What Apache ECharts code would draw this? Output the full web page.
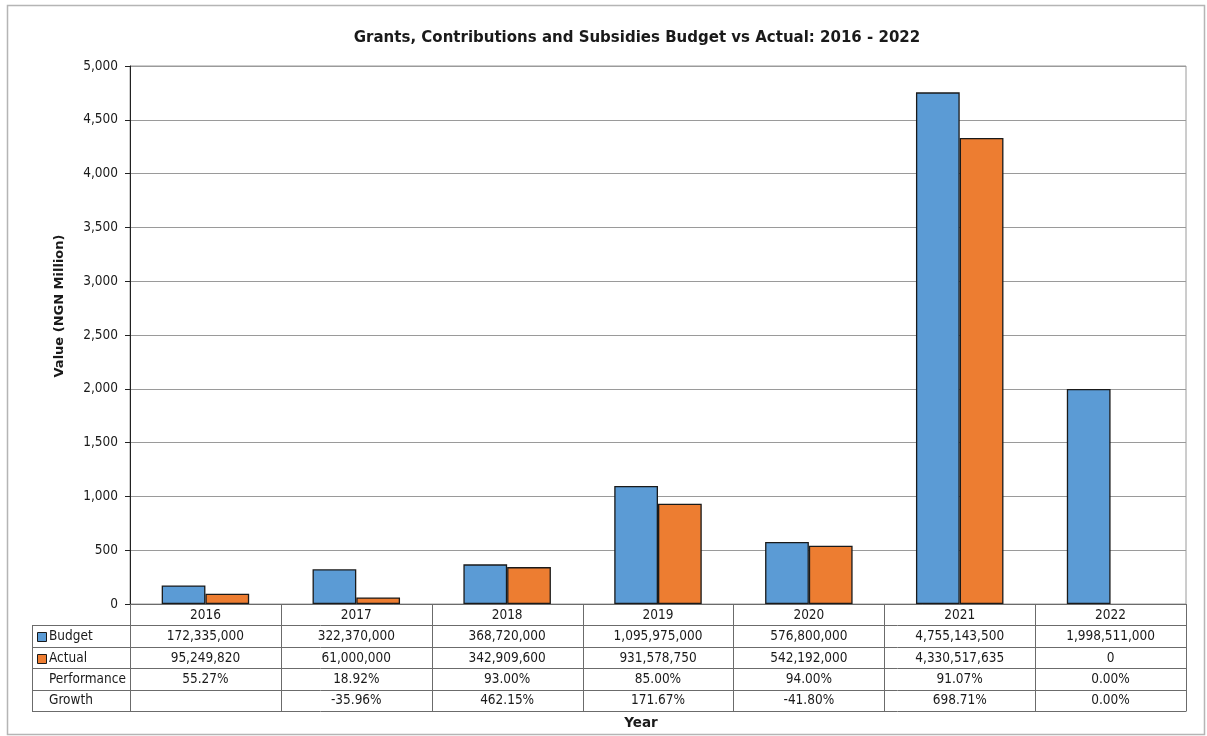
<!DOCTYPE html>
<html>
<head>
<meta charset="utf-8">
<script src="https://cdn.jsdelivr.net/npm/echarts@6/dist/echarts.min.js"></script>
<style>
  html, body { margin: 0; padding: 0; background: #fff; }
  #chart { width: 1207px; height: 736px; }
</style>
</head>
<body>
<div id="chart"></div>
<script>
// Years on the category axis / table header
const years = ['2016', '2017', '2018', '2019', '2020', '2021', '2022'];
// Raw amounts in NGN
const budgetRaw = [172335000, 322370000, 368720000, 1095975000, 576800000, 4755143500, 1998511000];
const actualRaw = [95249820, 61000000, 342909600, 931578750, 542192000, 4330517635, 0];
// Derived table rows
const performance = ['55.27%', '18.92%', '93.00%', '85.00%', '94.00%', '91.07%', '0.00%'];
const growth = ['', '-35.96%', '462.15%', '171.67%', '-41.80%', '698.71%', '0.00%'];
// Value axis ticks (NGN Million)
const yMin = 0, yMax = 5000, yStep = 500;

const FONT = '"DejaVu Sans Condensed", "DejaVu Sans"';
const FS = 13.5;
const BLUE = '#5b9bd5';
const ORANGE = '#ed7d31';
const TEXT = '#1a1a1a';
const TABLE_LINE = '#6b6b6b';

const fmt = v => v.toLocaleString('en-US');
// Bars in NGN Million; a zero value draws no outline
const toBar = v => ({ value: v / 1e6, itemStyle: v === 0 ? { borderWidth: 0 } : undefined });

const chart = echarts.init(document.getElementById('chart'), null, { renderer: 'canvas' });

const option = {
  backgroundColor: '#fff',
  animation: false,
  title: {
    text: 'Grants, Contributions and Subsidies Budget vs Actual: 2016 - 2022',
    left: 632, top: 26, textAlign: 'center',
    textStyle: { fontFamily: '"DejaVu Sans"', fontSize: 15, fontWeight: 'bold', color: TEXT }
  },
  grid: {
    left: 130, right: 21, top: 66, bottom: 132,
    show: true, borderColor: '#9a9a9a', borderWidth: 1
  },
  xAxis: {
    type: 'category',
    data: years,
    axisLine: { show: true, lineStyle: { color: TABLE_LINE, width: 1 } },
    axisTick: { show: false },
    axisLabel: { fontFamily: FONT, fontSize: FS, color: TEXT, margin: 4 }
  },
  yAxis: {
    type: 'value',
    min: yMin, max: yMax, interval: yStep,
    axisLine: { show: true, lineStyle: { color: '#222', width: 1 } },
    axisTick: { show: true, length: 5, lineStyle: { color: '#222' } },
    axisLabel: {
      fontFamily: FONT, fontSize: FS, color: TEXT, margin: 12,
      formatter: v => fmt(v)
    },
    splitLine: { show: true, lineStyle: { color: '#9a9a9a', width: 1 } }
  },
  series: [
    {
      name: 'Budget', type: 'bar', data: budgetRaw.map(toBar),
      barGap: '0%', barCategoryGap: '42%',
      itemStyle: { color: BLUE, borderColor: '#1a1a1a', borderWidth: 1.3 }
    },
    {
      name: 'Actual', type: 'bar', data: actualRaw.map(toBar),
      itemStyle: { color: ORANGE, borderColor: '#1a1a1a', borderWidth: 1.3 }
    }
  ]
};
chart.setOption(option);

// Data table below the plot, laid out from the axis scale
function buildTable() {
  const c0 = chart.convertToPixel({ xAxisIndex: 0 }, 0);
  const c1 = chart.convertToPixel({ xAxisIndex: 0 }, 1);
  const cw = c1 - c0;
  const left = c0 - cw / 2;
  const right = left + cw * years.length;
  const top = chart.convertToPixel({ yAxisIndex: 0 }, yMin);
  const rowH = 21.4;
  const labelLeft = 32;
  const els = [];
  const lineStyle = { stroke: TABLE_LINE, lineWidth: 1 };
  const rows = [
    { name: 'Budget', key: BLUE, vals: budgetRaw.map(fmt) },
    { name: 'Actual', key: ORANGE, vals: actualRaw.map(fmt) },
    { name: 'Performance', key: null, vals: performance },
    { name: 'Growth', key: null, vals: growth }
  ];
  const bottom = top + rowH * (rows.length + 1);
  // horizontal rules
  for (let r = 1; r <= rows.length + 1; r++) {
    const y = Math.round(top + rowH * r) + 0.5;
    els.push({ type: 'line', shape: { x1: labelLeft, y1: y, x2: right, y2: y }, style: lineStyle, silent: true });
  }
  // vertical rules
  for (let k = 0; k <= years.length; k++) {
    const x = Math.round(left + cw * k) + 0.5;
    els.push({ type: 'line', shape: { x1: x, y1: top, x2: x, y2: Math.round(bottom) + 0.5 }, style: lineStyle, silent: true });
  }
  els.push({ type: 'line', shape: { x1: labelLeft + 0.5, y1: Math.round(top + rowH) + 0.5, x2: labelLeft + 0.5, y2: Math.round(bottom) + 0.5 }, style: lineStyle, silent: true });
  // row labels, legend keys and cells
  rows.forEach((row, i) => {
    const cy = top + rowH * (i + 1) + rowH / 2 + 0.5;
    if (row.key) {
      els.push({ type: 'rect', shape: { x: 37.5, y: Math.round(cy - 4.5) + 0.5, width: 9, height: 9 },
        style: { fill: row.key, stroke: '#1a1a1a', lineWidth: 1 }, silent: true });
    }
    els.push({ type: 'text', x: 49, y: cy,
      style: { text: row.name, fontFamily: FONT, fontSize: FS, fill: TEXT, verticalAlign: 'middle', align: 'left' }, silent: true });
    row.vals.forEach((t, j) => {
      if (!t) return;
      els.push({ type: 'text', x: c0 + cw * j, y: cy,
        style: { text: t, fontFamily: FONT, fontSize: FS, fill: TEXT, verticalAlign: 'middle', align: 'center' }, silent: true });
    });
  });
  // axis titles
  els.push({ type: 'text', x: 60, y: 306, rotation: Math.PI / 2,
    style: { text: 'Value (NGN Million)', fontFamily: '"DejaVu Sans"', fontSize: 13, fontWeight: 'bold', fill: TEXT, align: 'center', verticalAlign: 'middle' }, silent: true });
  els.push({ type: 'text', x: (left + right) / 2 - 17, y: bottom + 12,
    style: { text: 'Year', fontFamily: '"DejaVu Sans"', fontSize: 13.5, fontWeight: 'bold', fill: TEXT, align: 'center', verticalAlign: 'middle' }, silent: true });
  // outer frame
  els.push({ type: 'rect', shape: { x: 7.5, y: 5.5, width: 1197, height: 729 },
    style: { fill: null, stroke: '#b5b5b5', lineWidth: 1.5 }, silent: true, z: -1 });
  chart.setOption({ graphic: els });
}
buildTable();
</script>
</body>
</html>
